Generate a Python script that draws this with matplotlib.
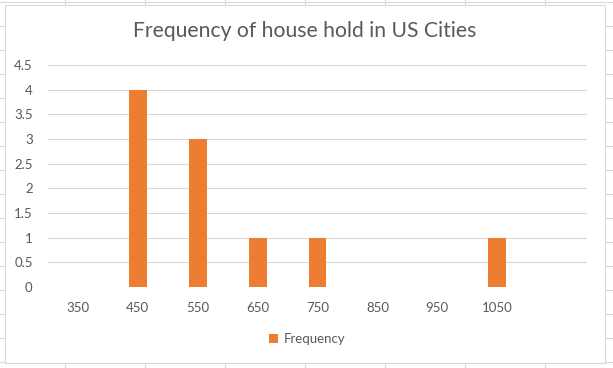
import matplotlib.pyplot as plt
from matplotlib.lines import Line2D
from matplotlib.patches import Rectangle

# chart data
categories = ['350', '450', '550', '650', '750', '850', '950', '1050', '']
frequency = [0, 4, 3, 1, 1, 0, 0, 1, 0]
yticks = [0, 0.5, 1, 1.5, 2, 2.5, 3, 3.5, 4, 4.5]

W, H = 613, 368
plt.rcParams['font.family'] = ['Lato', 'DejaVu Sans']

fig = plt.figure(figsize=(W / 100, H / 100), dpi=100)

def px(x0, y0, x1, y1):
    # spreadsheet gridline in pixel coords (y from top)
    fig.add_artist(Line2D([x0 / W, x1 / W], [1 - y0 / H, 1 - y1 / H],
                          transform=fig.transFigure, color='#d9d9d9', lw=0.8,
                          zorder=-2))

# background worksheet cells
for x in range(65, W, 80):
    px(x, 0, x, H)
for y in range(2, H, 24):
    px(0, y, W, y)

# chart area (white box with light border)
fig.add_artist(Rectangle((5 / W, 1 - 363 / H), 600 / W, 358 / H,
                         transform=fig.transFigure, facecolor='white',
                         edgecolor='#d9d9d9', lw=0.8, zorder=-1))

ax = fig.add_axes([48 / W, 1 - 287 / H, (587 - 48) / W, (287 - 65) / H])
ax.set_facecolor('none')
pos = range(len(categories))
ax.bar(pos, frequency, width=0.3, color='#ed7d31', label='Frequency', zorder=3)

ax.set_xlim(-0.5, len(categories) - 0.5)
ax.set_ylim(0, 4.5)
ax.set_xticks(list(pos))
ax.set_xticklabels(categories)
ax.set_yticks(yticks)
ax.set_yticklabels([f'{v:g}' for v in yticks])
ax.grid(axis='y', color='#d9d9d9', lw=0.8, zorder=0)
for s in ax.spines.values():
    s.set_visible(False)
ax.tick_params(length=0, colors='#595959', labelsize=9.5)
ax.tick_params(axis='x', pad=11)
ax.tick_params(axis='y', pad=11)
for lbl in ax.get_yticklabels():
    lbl.set_horizontalalignment('right')

fig.text(305 / W, 1 - 31 / H, 'Frequency of house hold in US Cities',
         ha='center', va='center', fontsize=15.2, color='#595959')

ax.legend(loc='center', bbox_to_anchor=(307 / W, 1 - 339 / H),
          bbox_transform=fig.transFigure, frameon=False, fontsize=9.5,
          labelcolor='#595959', handlelength=0.7, handleheight=0.7,
          handletextpad=0.4)

plt.savefig('out.png', dpi=100)
